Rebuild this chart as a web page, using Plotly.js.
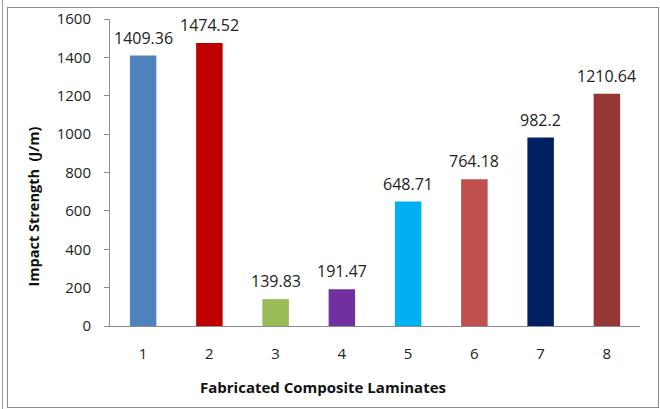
<!DOCTYPE html>
<html><head><meta charset="utf-8">
<script src="https://cdn.plot.ly/plotly-3.0.1.min.js"></script>
<style>
html,body{margin:0;padding:0;background:#fff;}
#wrap{position:relative;width:660px;height:409px;overflow:hidden;}
#chart{position:absolute;left:0;top:0;width:660px;height:409px;}
.fr{position:absolute;pointer-events:none;}
</style></head>
<body><div id="wrap"><div id="chart"></div>
<div class="fr" style="left:2px;top:-2px;width:0;height:420px;border-left:1px solid #9a9a9a;"></div>
<div class="fr" style="left:7px;top:7px;width:650px;height:399px;border:1px solid #8c8c8c;"></div>
</div>
<script>
const categories = ["1","2","3","4","5","6","7","8"];
const values = [1409.36, 1474.52, 139.83, 191.47, 648.71, 764.18, 982.2, 1210.64];
const labels = ["1409.36","1474.52","139.83","191.47","648.71","764.18","982.2","1210.64"];
const colors = ["#4F81BD","#C00000","#9BBB59","#7030A0","#00B0F0","#C0504D","#002060","#953735"];
const yTicks = [0,200,400,600,800,1000,1200,1400,1600];

const fontFam = "Open Sans, Noto Sans, sans-serif";
const annotations = categories.map((c,i)=>({
  x:i, y:values[i], xref:'x', yref:'y', text:labels[i], showarrow:false,
  yanchor:'middle', yshift:18, font:{family:fontFam, size:16, color:'#222'}
}));
annotations.push({xref:'paper', yref:'paper', x:0.5, y:0, yanchor:'middle',
  text:'<b>Fabricated Composite Laminates</b>', showarrow:false, xshift:-52, yshift:-61,
  font:{family:fontFam, size:15, color:'#111'}});
annotations.push({xref:'paper', yref:'paper', x:0, xshift:-77, y:0.5, yshift:-34, textangle:-90,
  text:'<b>Impact Strength  (J/m)</b>', showarrow:false, xanchor:'center', yanchor:'middle',
  font:{family:fontFam, size:14.5, color:'#111'}});

Plotly.newPlot('chart', [{
  type:'bar', x:categories, y:values, marker:{color:colors}, hoverinfo:'none'
}], {
  width:660, height:409,
  margin:{l:110, r:20, t:19, b:83},
  paper_bgcolor:'#fff', plot_bgcolor:'#fff',
  bargap:0.6, showlegend:false,
  xaxis:{type:'category', range:[-0.5,7.5], showline:true, linecolor:'#8c8c8c', linewidth:1, ticks:'',
    showgrid:false, zeroline:false, tickfont:{family:fontFam, size:15, color:'#222'}, ticklabelstandoff:14},
  yaxis:{range:[0,1600], tickvals:yTicks, showline:true, linecolor:'#8c8c8c', linewidth:1,
    ticks:'outside', ticklen:5, tickcolor:'#8c8c8c', showgrid:false, zeroline:false,
    ticklabelstandoff:10,
    tickfont:{family:fontFam, size:15, color:'#222'}},
  annotations:annotations
}, {staticPlot:true});
</script></body></html>
